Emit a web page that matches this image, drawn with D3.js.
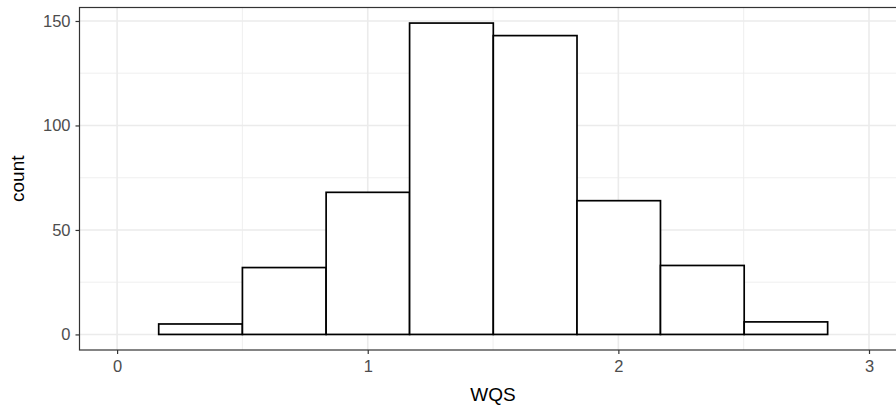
<!DOCTYPE html>
<html>
<head>
<meta charset="utf-8">
<script src="https://cdn.jsdelivr.net/npm/d3@7"></script>
<style>
  html, body { margin: 0; padding: 0; background: #fff; }
  svg { display: block; font-family: "Liberation Sans", Arial, Helvetica, sans-serif; }
</style>
</head>
<body>
<svg id="chart" width="896" height="408"></svg>
<script>
// Histogram bins (WQS) and counts
const binEdges = [0.166, 0.500, 0.834, 1.167, 1.501, 1.835, 2.168, 2.502, 2.835];
const counts = [5, 32, 68, 149, 143, 64, 33, 6];
const xTicks = [0, 1, 2, 3];
const xMinor = [0.5, 1.5, 2.5];
const yTicks = [0, 50, 100, 150];
const yMinor = [25, 75, 125];

const bins = counts.map((c, i) => ({ x0: binEdges[i], x1: binEdges[i + 1], count: c }));

const svg = d3.select("#chart");
const panel = { left: 79.5, top: 7.5, right: 906.6, bottom: 350 };

const x = d3.scaleLinear().domain([-0.15, 3.15]).range([panel.left, panel.right]);
const yMax = d3.max(counts);
const yPad = yMax * 0.05;
const y = d3.scaleLinear().domain([-yPad, yMax + yPad]).range([panel.bottom, panel.top]);

const g = svg.append("g");

g.append("rect")
  .attr("x", panel.left).attr("y", panel.top)
  .attr("width", panel.right - panel.left).attr("height", panel.bottom - panel.top)
  .attr("fill", "#fff");

// minor grid
g.selectAll(".xminor").data(xMinor).enter().append("line")
  .attr("x1", d => x(d)).attr("x2", d => x(d))
  .attr("y1", panel.top).attr("y2", panel.bottom)
  .attr("stroke", "#EBEBEB").attr("stroke-width", 0.8);
g.selectAll(".yminor").data(yMinor).enter().append("line")
  .attr("y1", d => y(d)).attr("y2", d => y(d))
  .attr("x1", panel.left).attr("x2", panel.right)
  .attr("stroke", "#EBEBEB").attr("stroke-width", 0.8);
// major grid
g.selectAll(".xmajor").data(xTicks).enter().append("line")
  .attr("x1", d => x(d)).attr("x2", d => x(d))
  .attr("y1", panel.top).attr("y2", panel.bottom)
  .attr("stroke", "#EBEBEB").attr("stroke-width", 1.6);
g.selectAll(".ymajor").data(yTicks).enter().append("line")
  .attr("y1", d => y(d)).attr("y2", d => y(d))
  .attr("x1", panel.left).attr("x2", panel.right)
  .attr("stroke", "#EBEBEB").attr("stroke-width", 1.6);

// bars
g.selectAll(".bar").data(bins).enter().append("rect")
  .attr("x", d => x(d.x0))
  .attr("y", d => y(d.count))
  .attr("width", d => x(d.x1) - x(d.x0))
  .attr("height", d => y(0) - y(d.count))
  .attr("fill", "#fff")
  .attr("stroke", "#000")
  .attr("stroke-width", 1.7);

// panel border
g.append("rect")
  .attr("x", panel.left).attr("y", panel.top)
  .attr("width", panel.right - panel.left).attr("height", panel.bottom - panel.top)
  .attr("fill", "none").attr("stroke", "#333333").attr("stroke-width", 1.2);

// axes
const xAxis = d3.axisBottom(x).tickValues(xTicks).tickFormat(d3.format("d")).tickSize(4).tickPadding(6);
const yAxis = d3.axisLeft(y).tickValues(yTicks).tickFormat(d3.format("d")).tickSize(4).tickPadding(5);

const xg = svg.append("g").attr("transform", `translate(0,${panel.bottom})`).call(xAxis);
const yg = svg.append("g").attr("transform", `translate(${panel.left},0)`).call(yAxis);
[xg, yg].forEach(a => {
  a.select(".domain").remove();
  a.selectAll(".tick line").attr("stroke", "#333333").attr("stroke-width", 1.2);
  a.selectAll(".tick text").attr("fill", "#4D4D4D").style("font-size", "16.5px");
});

// titles
svg.append("text")
  .attr("x", (panel.left + panel.right) / 2).attr("y", 401)
  .attr("text-anchor", "middle").attr("fill", "#000")
  .style("font-size", "19px").text("WQS");
svg.append("text")
  .attr("transform", `translate(24,${(panel.top + panel.bottom) / 2}) rotate(-90)`)
  .attr("text-anchor", "middle").attr("fill", "#000")
  .style("font-size", "19px").text("count");
</script>
</body>
</html>
